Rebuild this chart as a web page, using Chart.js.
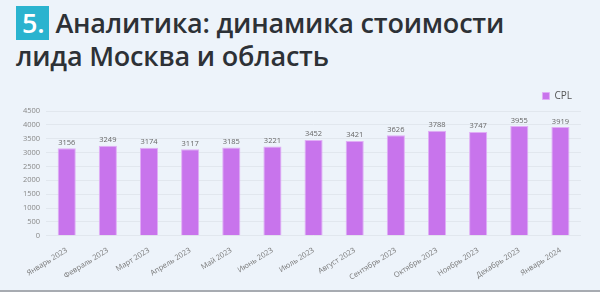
<!DOCTYPE html>
<html>
<head>
<meta charset="utf-8">
<script src="https://cdn.jsdelivr.net/npm/chart.js@4"></script>
<style>
  html, body { margin: 0; padding: 0; }
  body { width: 600px; height: 292px; background: #edf3fa; position: relative; overflow: hidden; font-family: "Open Sans", sans-serif; }
  #title { position: absolute; left: 16px; top: 6px; font-size: 27px; line-height: 31px; font-weight: 600; color: #2d3136; letter-spacing: -0.2px; }
  #num { display: inline-block; background: #2ab3cf; color: #fff; padding: 0 5px 0 6px; height: 34px; line-height: 34px; margin-right: 6px; }
  #box { position: absolute; left: 0; top: 80px; width: 600px; height: 204px; }
  #bottomline { position: absolute; left: 0; bottom: 0; width: 600px; height: 2px; background: #a7abb1; }
</style>
</head>
<body>
<div id="title"><span id="num">5.</span>Аналитика: динамика стоимости<br>лида Москва и область</div>
<div id="box"><canvas id="chart"></canvas></div>
<div id="bottomline"></div>
<script>
//===========================================================================================
// ~~ DATA ~~
var months = ["Январь 2023", "Февраль 2023", "Март 2023", "Апрель 2023", "Май 2023", "Июнь 2023",
  "Июль 2023", "Август 2023", "Сентябрь 2023", "Октябрь 2023", "Ноябрь 2023", "Декабрь 2023", "Январь 2024"];
var cpl = [3156, 3249, 3174, 3117, 3185, 3221, 3452, 3421, 3626, 3788, 3747, 3955, 3919];
var seriesName = "CPL";

//===========================================================================================
// ~~ VALUE LABELS ABOVE BARS ~~
var valueLabels = {
  id: 'valueLabels',
  afterDatasetsDraw: function(chart) {
    var ctx = chart.ctx;
    var meta = chart.getDatasetMeta(0);
    ctx.save();
    ctx.font = '7.5px "Open Sans"';
    ctx.fillStyle = '#666';
    ctx.textAlign = 'center';
    ctx.textBaseline = 'bottom';
    meta.data.forEach(function(bar, i) {
      ctx.fillText(chart.data.datasets[0].data[i], bar.x, bar.y - 2);
    });
    ctx.restore();
  }
};

new Chart(document.getElementById("chart"), {
  type: 'bar',
  data: {
    labels: months,
    datasets: [{
      label: seriesName,
      data: cpl,
      backgroundColor: '#c874ec',
      borderColor: '#e0aef6',
      borderWidth: 1,
      categoryPercentage: 0.88,
      barPercentage: 0.5
    }]
  },
  plugins: [valueLabels],
  options: {
    responsive: true,
    maintainAspectRatio: false,
    animation: false,
    layout: { padding: { left: 17, right: 19, top: 2, bottom: 0 } },
    plugins: {
      legend: {
        position: 'top',
        align: 'end',
        labels: { boxWidth: 7, boxHeight: 7, padding: 9, color: '#555', font: { family: 'Open Sans', size: 10 } }
      },
      tooltip: { enabled: false }
    },
    scales: {
      y: {
        min: 0,
        max: 4500,
        ticks: {
          stepSize: 500, autoSkip: false, color: '#888', padding: 6,
          font: { family: 'Open Sans', size: 7.5 },
          callback: function(v) { return String(v); }
        },
        grid: { color: '#e1e7ee', drawTicks: false },
        border: { display: false }
      },
      x: {
        ticks: { minRotation: 32, maxRotation: 32, autoSkip: false, color: '#777', font: { family: 'Open Sans', size: 7.5 }, padding: 2 },
        grid: { display: false },
        border: { display: false }
      }
    }
  }
});
</script>
</body>
</html>
